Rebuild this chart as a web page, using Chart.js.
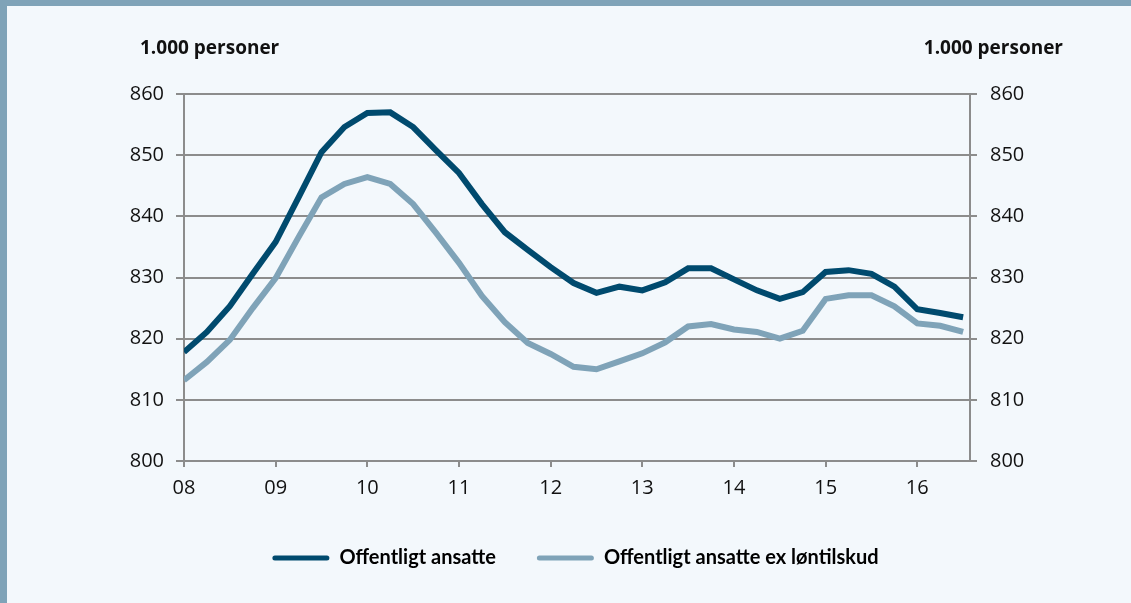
<!DOCTYPE html>
<html>
<head>
<meta charset="utf-8">
<script src="https://cdn.jsdelivr.net/npm/chart.js@4.4.1/dist/chart.umd.min.js"></script>
<style>
    html, body {
        margin: 0;
        padding: 0;
        background: #f3f8fc;
    }
    #frame {
        position: absolute;
        left: 0;
        top: 0;
        width: 1131px;
        height: 603px;
        box-sizing: border-box;
        border-left: 7px solid #7fa3b8;
        border-top: 6px solid #7fa3b8;
    }
    #wrap {
        position: absolute;
        left: 0;
        top: 0;
        width: 1131px;
        height: 603px;
    }
</style>
</head>
<body>
<div id="frame"></div>
<div id="wrap"><canvas id="myChart"></canvas></div>
<script>
// quarterly data, 2008 Q1 - 2016 Q3 (1.000 personer)
const years = ['08', '09', '10', '11', '12', '13', '14', '15', '16'];

const offentligtAnsatte = [
    817.8, 821.1, 825.3, 830.6,
    835.8, 843.1, 850.5, 854.6,
    856.9, 857.0, 854.6, 850.8,
    847.1, 842.0, 837.4, 834.5,
    831.7, 829.1, 827.5, 828.5,
    827.9, 829.2, 831.5, 831.5,
    829.7, 827.9, 826.5, 827.6,
    830.9, 831.2, 830.6, 828.5,
    824.8, 824.2, 823.5
];

const exLoentilskud = [
    813.2, 816.2, 819.8, 825.0,
    829.9, 836.6, 843.1, 845.3,
    846.4, 845.3, 842.0, 837.3,
    832.4, 827.0, 822.7, 819.3,
    817.5, 815.4, 815.0, 816.3,
    817.6, 819.4, 822.0, 822.4,
    821.5, 821.1, 820.0, 821.3,
    826.5, 827.1, 827.1, 825.3,
    822.5, 822.1, 821.1
];

const seriesNames = ['Offentligt ansatte', 'Offentligt ansatte ex løntilskud'];
const unitLabel = '1.000 personer';

const axisGrey = '#8c8c8c';
const tickFont = {family: 'Open Sans', size: 20};

// x = quarter index (4 per year)
const toPoints = (values) => values.map((v, i) => ({x: i, y: v}));

// draws the unit text above both y axes
const unitLabels = {
    id: 'unitLabels',
    afterDraw(chart) {
        const {ctx, chartArea} = chart;
        ctx.save();
        ctx.font = 'bold 19px "Open Sans"';
        ctx.fillStyle = '#111';
        ctx.textBaseline = 'middle';
        ctx.textAlign = 'left';
        ctx.fillText(unitLabel, chartArea.left - 44, 49);
        ctx.textAlign = 'right';
        ctx.fillText(unitLabel, chartArea.right + 93, 49);
        ctx.restore();
    }
};

const ctx = document.getElementById('myChart').getContext('2d');
new Chart(ctx, {
    type: 'line',
    data: {
        datasets: [
            {
                label: seriesNames[0],
                data: toPoints(offentligtAnsatte),
                borderColor: '#004a6e',
                backgroundColor: '#004a6e',
                borderWidth: 6,
                pointRadius: 0,
                tension: 0,
                yAxisID: 'y'
            },
            {
                label: seriesNames[1],
                data: toPoints(exLoentilskud),
                borderColor: '#7fa3b8',
                backgroundColor: '#7fa3b8',
                borderWidth: 6,
                pointRadius: 0,
                tension: 0,
                yAxisID: 'y'
            }
        ]
    },
    options: {
        responsive: true,
        maintainAspectRatio: false,
        animation: false,
        layout: {
            padding: {left: 20, right: 0, top: 94, bottom: 25}
        },
        scales: {
            x: {
                type: 'linear',
                min: 0,
                max: 34.3,
                grid: {
                    drawOnChartArea: false,
                    drawTicks: true,
                    tickLength: 6,
                    lineWidth: 2,
                    color: axisGrey
                },
                border: {color: axisGrey, width: 2},
                ticks: {
                    stepSize: 4,
                    includeBounds: false,
                    maxRotation: 0,
                    padding: 9,
                    color: '#111',
                    font: tickFont,
                    callback: (value) => years[value / 4]
                },
                afterFit(scale) {
                    scale.height = 46;
                }
            },
            y: {
                position: 'left',
                min: 800,
                max: 860,
                ticks: {
                    stepSize: 10,
                    padding: 12,
                    color: '#111',
                    font: tickFont
                },
                grid: {
                    color: axisGrey,
                    lineWidth: 2,
                    tickLength: 8
                },
                border: {color: axisGrey, width: 2},
                afterFit(scale) {
                    scale.width = 164;
                }
            },
            y1: {
                position: 'right',
                min: 800,
                max: 860,
                ticks: {
                    stepSize: 10,
                    padding: 13,
                    color: '#111',
                    font: tickFont
                },
                grid: {
                    drawOnChartArea: false,
                    color: axisGrey,
                    lineWidth: 2,
                    tickLength: 7
                },
                border: {color: axisGrey, width: 2},
                afterFit(scale) {
                    scale.width = 161;
                }
            }
        },
        plugins: {
            legend: {
                position: 'bottom',
                labels: {
                    boxWidth: 57,
                    boxHeight: 5,
                    padding: 41,
                    color: '#111',
                    font: {family: 'Lato', size: 20, weight: 'bold'},
                    useBorderRadius: true,
                    generateLabels(chart) {
                        return chart.data.datasets.map((ds, i) => ({
                            text: ds.label,
                            fillStyle: ds.borderColor,
                            strokeStyle: ds.borderColor,
                            lineWidth: 0,
                            borderRadius: 2.5,
                            hidden: false,
                            datasetIndex: i
                        }));
                    }
                }
            },
            tooltip: {enabled: false}
        }
    },
    plugins: [unitLabels]
});
</script>
</body>
</html>
